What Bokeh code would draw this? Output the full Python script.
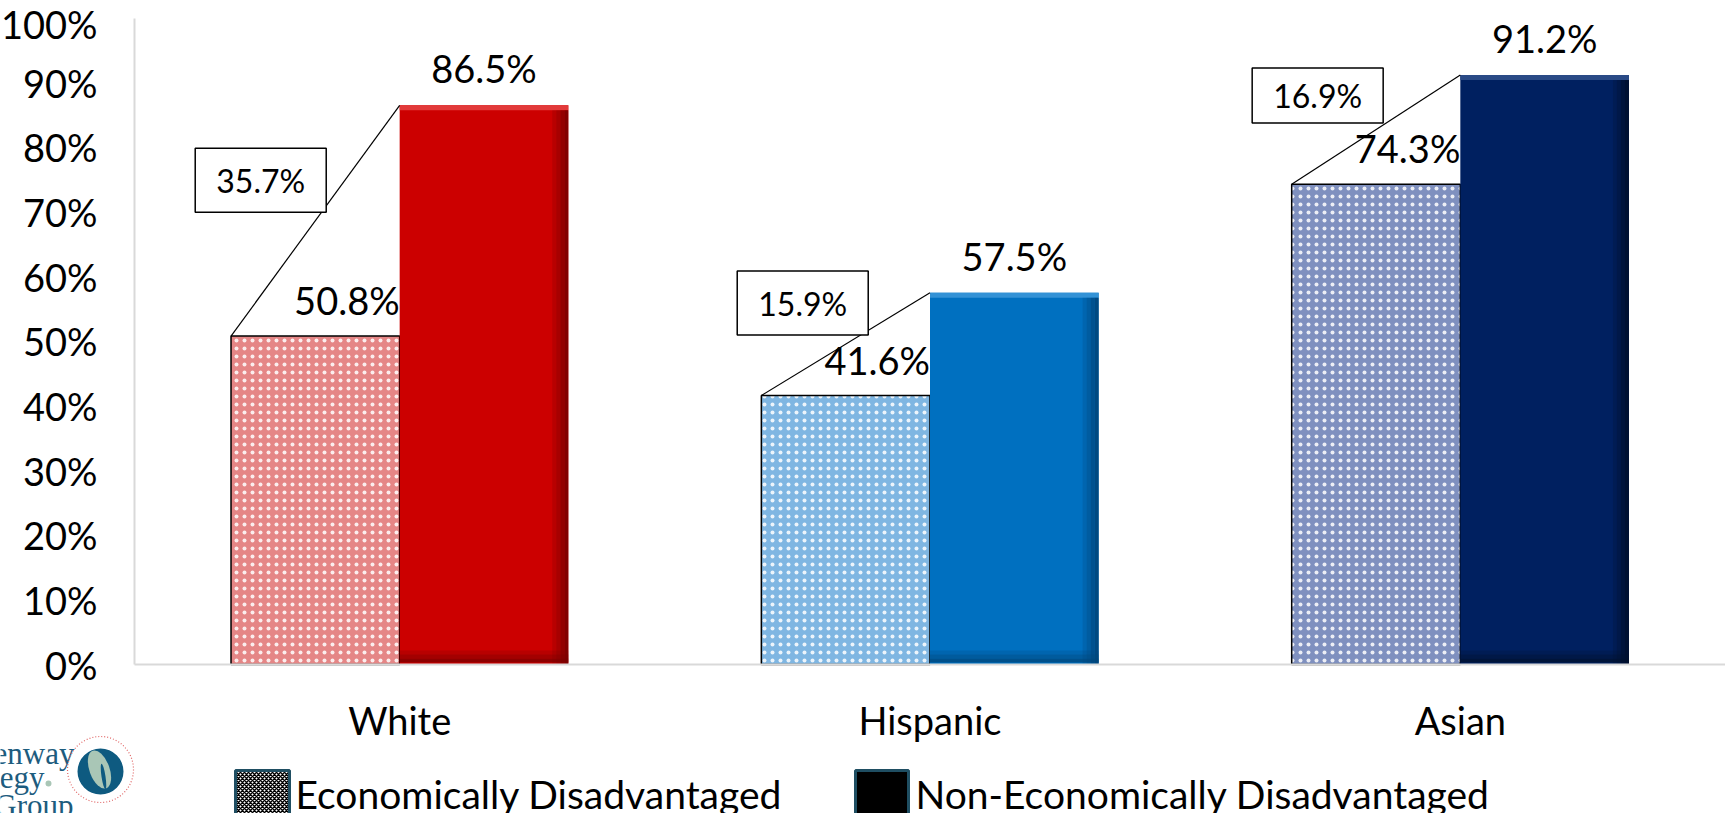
from bokeh.plotting import figure
from bokeh.models import (ColumnDataSource, Range1d, FixedTicker, PrintfTickFormatter,
                          LinearAxis)
from bokeh.core.properties import value
from bokeh.embed import file_html
from bokeh.resources import INLINE

# ---- data -------------------------------------------------------------
categories = ["White", "Hispanic", "Asian"]
econ_disadvantaged = [50.8, 41.6, 74.3]
non_econ_disadvantaged = [86.5, 57.5, 91.2]
series_labels = ["Economically Disadvantaged", "Non-Economically Disadvantaged"]
y_ticks = [0, 10, 20, 30, 40, 50, 60, 70, 80, 90, 100]

# ---- colours ----------------------------------------------------------
nd_colors = ["#cc0000", "#0070c0", "#002060"]
nd_light = ["#e23a3a", "#3392d6", "#2a4a86"]
nd_dark = ["#7a0000", "#00457a", "#00102e"]
ed_colors = ["#e58686", "#7fb6e2", "#7f90bf"]
logo_teal = "#1d5c7e"
logo_sage = "#a9c6b6"
grid_grey = "#d9d9d9"

# ---- layout (canvas pixels) --------------------------------------------
W, H = 1725, 813
AX_LEFT = 134        # x of the value axis
AX_TOP = 17.5        # y of the 100% line
AX_ZERO = 664        # y of the 0% line
cat_px = (W - AX_LEFT) / len(categories)
unit_px = (AX_ZERO - AX_TOP) / 100.0
px_x = 1.0 / cat_px          # one pixel in x data units
px_y = 1.0 / unit_px         # one pixel in y data units
bar_w = 0.318

# difference call-out boxes: centre offset from category centre, centre height, box size
box_dx = [-0.262, -0.240, -0.269]
box_y = [74.9, 55.9, 88.0]
box_h_px = [64, 64, 55]
box_w_px = 131

FONT = "Lato"

xc = [i + 0.5 for i in range(len(categories))]
gaps = [round(n - e, 1) for e, n in zip(econ_disadvantaged, non_econ_disadvantaged)]

src = ColumnDataSource(dict(
    xc=xc,
    ed_x=[x - bar_w / 2 for x in xc],
    nd_x=[x + bar_w / 2 for x in xc],
    ed_left=[x - bar_w for x in xc],
    ed=econ_disadvantaged,
    nd=non_econ_disadvantaged,
    ed_color=ed_colors,
    nd_color=nd_colors,
    ed_label=[f"{v:.1f}%" for v in econ_disadvantaged],
    nd_label=[f"{v:.1f}%" for v in non_econ_disadvantaged],
    gap_label=[f"{g:.1f}%" for g in gaps],
    box_x=[x + d for x, d in zip(xc, box_dx)],
    box_y=box_y,
    box_h=box_h_px,
))

# the frame fills the canvas; axes sit inside it at fixed positions
x0 = -AX_LEFT * px_x
p = figure(width=W, height=H,
           x_range=Range1d(x0, len(categories)),
           y_range=Range1d(-(H - AX_ZERO) * px_y, 100 + AX_TOP * px_y),
           output_backend="svg", toolbar_location=None, min_border=0,
           x_axis_type=None, y_axis_type=None)
p.outline_line_color = None
p.background_fill_color = "white"
p.border_fill_color = "white"
p.extra_x_ranges = {"px": Range1d(0, W)}
p.extra_y_ranges = {"px": Range1d(H, 0)}

xaxis = LinearAxis(fixed_location=0, bounds=(0, len(categories)),
                   ticker=FixedTicker(ticks=xc),
                   major_label_overrides={x: c for x, c in zip(xc, categories)},
                   major_label_text_font=FONT, major_label_text_font_size="38px",
                   major_label_text_color="black", major_label_standoff=26,
                   axis_line_color=grid_grey, axis_line_width=2,
                   major_tick_line_color=None, minor_tick_line_color=None)
yaxis = LinearAxis(fixed_location=0, bounds=(0, 100),
                   ticker=FixedTicker(ticks=y_ticks),
                   formatter=PrintfTickFormatter(format="%d%%"),
                   major_label_text_font=FONT, major_label_text_font_size="38px",
                   major_label_text_color="black", major_label_standoff=31,
                   axis_line_color=grid_grey, axis_line_width=2,
                   major_tick_line_color=None, minor_tick_line_color=None)
p.add_layout(xaxis, "below")
p.add_layout(yaxis, "left")
p.xgrid.grid_line_color = None
p.ygrid.ticker = FixedTicker(ticks=y_ticks)
p.ygrid.grid_line_color = grid_grey
p.ygrid.grid_line_width = 2
# keep the gridlines to the right of the value axis
p.quad(left=x0, right=0, bottom=-50, top=150, fill_color="white", line_color=None)

# economically disadvantaged bars: light tint with white dot pattern
p.vbar(x="ed_x", top="ed", width=bar_w, source=src, fill_color="ed_color",
       line_color="black", line_width=1.5, hatch_pattern="dot", hatch_color="white",
       hatch_scale=8, hatch_alpha=0.85)

# non-economically disadvantaged bars with a bevelled look
p.vbar(x="nd_x", top="nd", width=bar_w, source=src, fill_color="nd_color", line_color=None)
for i, (x, top) in enumerate(zip(xc, non_econ_disadvantaged)):
    l, r = x, x + bar_w
    # highlight along the top
    p.quad(left=l, right=r, top=top, bottom=top - 5 * px_y,
           fill_color=nd_light[i], line_color=None)
    # shading down the right edge
    for k, a in enumerate([0.25, 0.45, 0.7, 0.9]):
        p.quad(left=r - (16 - 4 * k) * px_x, right=r - (12 - 4 * k) * px_x,
               top=top - 5 * px_y, bottom=0, fill_color=nd_dark[i], fill_alpha=a,
               line_color=None)
    # shading along the bottom
    for k, a in enumerate([0.25, 0.5, 0.75]):
        p.quad(left=l, right=r, top=(14 - 4 * k) * px_y, bottom=(10 - 4 * k) * px_y,
               fill_color=nd_dark[i], fill_alpha=a, line_color=None)

# connector from the top-left of one bar to the top-left of the other
p.segment(x0="ed_left", y0="ed", x1="xc", y1="nd", source=src, line_color="black",
          line_width=1.2)

# difference call-out boxes
p.rect(x="box_x", y="box_y", width=box_w_px, height="box_h", width_units="screen",
       height_units="screen", source=src, fill_color="white", line_color="black",
       line_width=1.5)
p.text(x="box_x", y="box_y", text="gap_label", source=src, text_align="center",
       text_baseline="middle", text_font=value(FONT), text_font_size="32px",
       text_color="black")

# value labels
p.text(x="xc", y="ed", text="ed_label", source=src, text_align="right",
       text_baseline="bottom", y_offset=-13, text_font=value(FONT), text_font_size="38px",
       text_color="black")
p.text(x="nd_x", y="nd", text="nd_label", source=src, text_align="center",
       text_baseline="bottom", y_offset=-14, text_font=value(FONT), text_font_size="38px",
       text_color="black")

# ---- logo and legend, placed in canvas pixels ------------------------
PX = dict(x_range_name="px", y_range_name="px")
wordmark = ["Greenway", "Strategy", "Group"]
p.text(x=[74, 44, 73], y=[753, 777, 805], text=wordmark, text_align="right",
       text_baseline="alphabetic", text_font=value("Liberation Serif"),
       text_font_size="31px", text_color=logo_teal, **PX)
p.scatter(x=[48], y=[783], size=6, marker="circle", fill_color=logo_sage,
          line_color=None, **PX)
p.circle(x=[100], y=[769], radius=33, fill_alpha=0, line_color="#e06666",
         line_width=1.2, line_dash="1 2", **PX)
p.circle(x=[100], y=[771], radius=23, fill_color="#0e5a80", line_color=None, **PX)
p.ellipse(x=[99], y=[769], width=20, height=40, angle=0.35, fill_color=logo_sage,
          line_color=None, **PX)
p.ellipse(x=[103], y=[776], width=4, height=26, angle=0.15, fill_color="#0e5a80",
          line_color=None, **PX)

p.quad(left=[235], right=[289], top=[770], bottom=[816], fill_color="white",
       hatch_pattern="diagonal_cross", hatch_color="black", hatch_scale=4,
       hatch_weight=1.5, line_color="#1f4e62", line_width=3, **PX)
p.quad(left=[855], right=[908], top=[770], bottom=[816], fill_color="black",
       line_color="#1f4e62", line_width=3, **PX)
p.text(x=[295, 915], y=[793, 793], text=series_labels, text_align="left",
       text_baseline="middle", text_font=value(FONT), text_font_size="39px",
       text_color="black", **PX)

open("out.html", "w").write(file_html(p, INLINE))
